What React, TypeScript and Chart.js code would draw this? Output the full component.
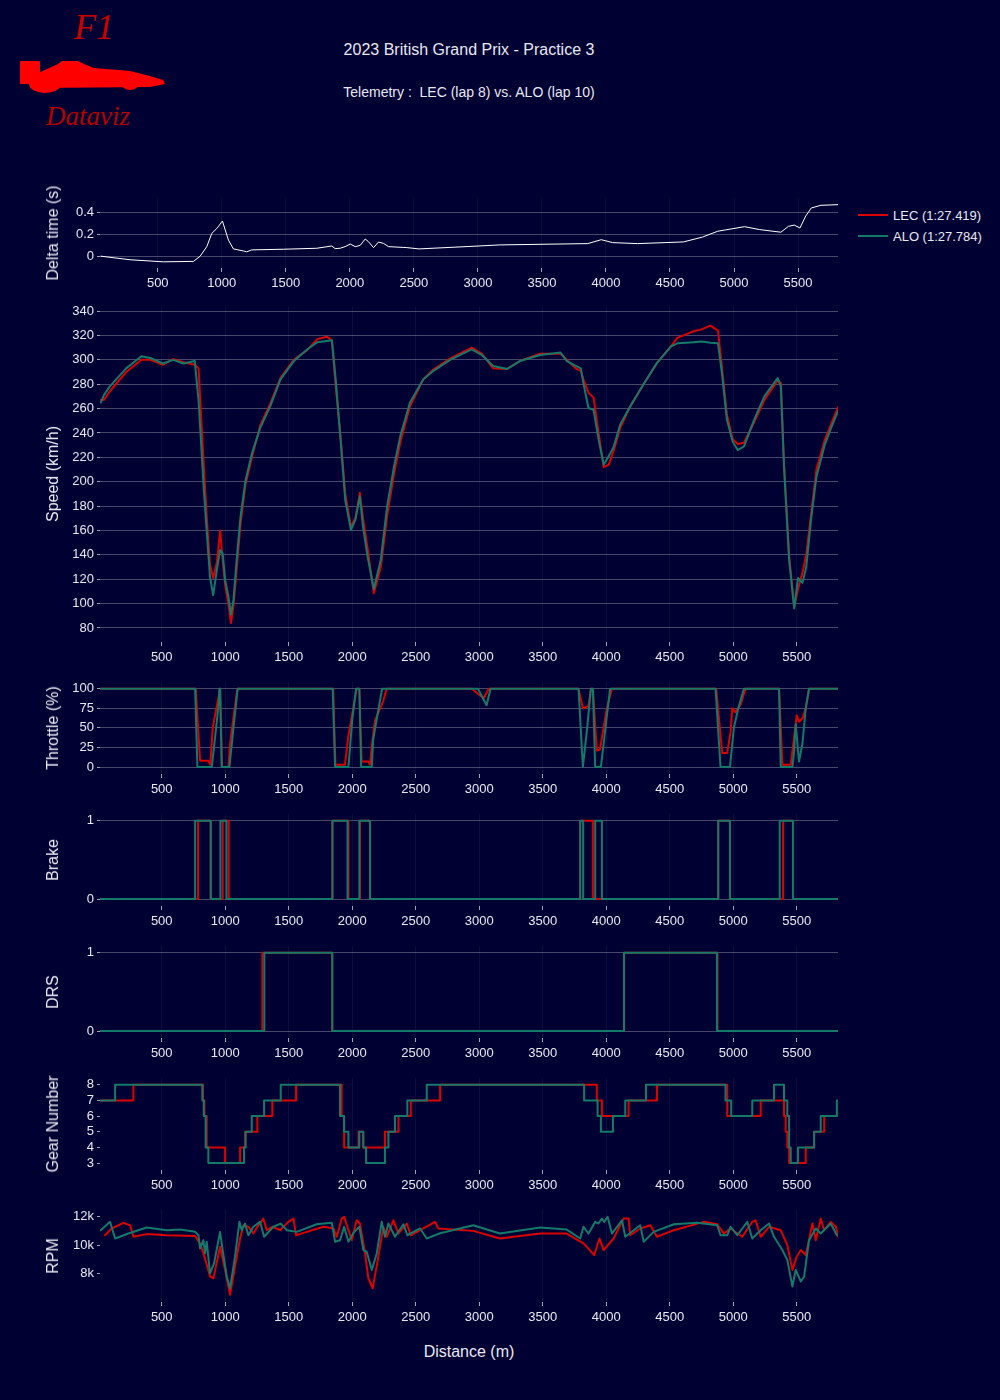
import React, { useEffect, useRef } from "react";
import { Chart, registerables } from "chart.js";
Chart.register(...registerables);

// ---------- DATA ----------
const xTicks = [500, 1000, 1500, 2000, 2500, 3000, 3500, 4000, 4500, 5000, 5500];

const deltaDist = [55,284,544,779,831,883,922,961,1005,1052,1091,1169,1195,1234,1482,1742,1859,1885,1924,1963,2003,2042,2081,2120,2146,2185,2224,2263,2302,2445,2540,2993,3172,3858,3963,4052,4246,4604,4754,4873,4933,5082,5201,5366,5425,5470,5515,5560,5604,5679,5812];
const deltaVal = [0,-0.033,-0.052,-0.048,0,0.088,0.21,0.255,0.324,0.148,0.067,0.048,0.04,0.058,0.064,0.073,0.094,0.07,0.073,0.088,0.112,0.088,0.1,0.158,0.133,0.079,0.13,0.118,0.088,0.079,0.067,0.093,0.104,0.116,0.152,0.125,0.116,0.131,0.176,0.23,0.242,0.272,0.245,0.221,0.275,0.287,0.26,0.37,0.445,0.469,0.475];

const speedDist = [20,45,90,220,340,410,510,590,670,760,790,830,855,880,905,935,960,980,1000,1025,1045,1065,1090,1120,1160,1210,1275,1355,1435,1540,1645,1725,1800,1840,1870,1910,1945,1990,2025,2060,2085,2120,2170,2225,2275,2330,2380,2455,2560,2640,2770,2940,3020,3110,3220,3320,3480,3640,3690,3760,3800,3820,3860,3900,3940,3980,4020,4060,4110,4190,4300,4400,4510,4560,4690,4750,4820,4880,4910,4950,4995,5035,5085,5165,5245,5350,5375,5400,5440,5480,5510,5545,5575,5615,5655,5720,5770,5825];
const aloSpeed = [265,271,278,293,303,301.5,297,300,297,299,267,196,158,122,107,128,144,141,119,106,91,103,136,171,201,223,244,262,284,299,308.5,314.5,315.5,316,284,232,185,160.5,169,188,163,139,112,136,180,213,238,265,284,291,300,308.5,304,295,292.5,299,304,306,299,295,293,281,260.5,259,234.5,214,221,229,247,262,281,297.5,311,313.5,314.5,315,314,313.5,290,251,233,226,229,251,270,285,278,212,136,96,121,117,130,171,204,230,244,258];
const lecSpeed = [267,267,274,290,300,300,296,300.5,298,296,293,215,170,132,121,134,160,135,115,100,84,98,128,165,198,220,246,264,285,300,308,317,319,316,278,235,190,163,170,191,170,146,108.5,130,172,207,233,262,284,292,301,310,305,293,292.5,299,305,305,300,293,291,284,273,269,240,212,214,226,244,262,281,297.5,311,318,323.5,325,328,324,295,255,235,231,232,249,267,283,281,215,140,97,112,125,140,175,210,234,247,261];

const aloThrottleDist = [14,763,781,894,935,950,954,960,972,1033,1065,1098,1846,1865,1970,2000,2030,2056,2070,2154,2165,2235,2990,3058,3089,3782,3816,3850,3879,3895,3913,3958,4030,4861,4900,4974,5005,5040,5084,5361,5374,5466,5479,5492,5518,5545,5571,5597,5825];
const aloThrottle = [100,100,0,0,60,85,100,100,0,0,50,100,100,0,0,60,100,100,0,0,35,100,100,79,100,100,0,50,100,100,0,0,100,100,0,0,50,75,100,100,0,0,20,55,7,30,75,100,100];
const lecThrottleDist = [14,768,802,868,882,902,930,960,966,975,1025,1038,1083,1096,1850,1868,1943,1970,2035,2056,2074,2128,2139,2164,2180,2220,2245,2271,2940,3035,3075,3782,3816,3860,3880,3895,3926,3950,4005,4045,4866,4913,4953,4979,4992,5018,5058,5097,5361,5387,5453,5500,5518,5545,5571,5597,5825];
const lecThrottle = [100,100,8,8,3,50,75,100,100,0,0,30,85,100,100,3,3,40,100,100,7,7,3,40,60,75,85,100,100,88,100,100,75,78,100,100,21,22,75,100,100,18,18,45,75,70,80,100,100,3,3,66,58,62,75,100,100];

const aloBrakeDist = [14,763,886,962,1010,1844,1963,2056,2140,3795,3818,3913,3966,4882,4974,5366,5471,5825];
const aloBrake = [0,1,0,1,0,1,0,1,0,1,0,1,0,1,0,1,0,0];
const lecBrakeDist = [14,786,886,980,1028,1844,1970,2061,2140,3795,3895,4882,4974,5392,5471,5825];
const lecBrake = [0,1,0,1,0,1,0,1,0,1,0,1,0,1,0,0];

const lecDrsDist = [14,1292,1843,4140,4876,5825];
const lecDrs = [0,1,0,1,0,0];
const aloDrsDist = [14,1308,1843,4140,4872,5825];
const aloDrs = [0,1,0,1,0,0];

const aloGearDist = [14,133,820,831,846,867,1148,1161,1209,1306,1437,1904,1936,1970,2056,2088,2109,2258,2285,2337,2434,2587,3826,3932,3958,4053,4150,4313,4939,4984,5150,5321,5400,5426,5440,5453,5510,5637,5689,5816,5825];
const aloGear = [7,8,7,6,4,3,4,5,6,7,8,6,5,4,5,4,3,4,5,6,7,8,7,6,5,6,7,8,7,6,7,8,7,6,4,3,4,5,6,7,7];
const lecGearDist = [14,277,825,836,854,999,1117,1156,1253,1371,1558,1917,1936,2050,2085,2258,2364,2461,2692,3926,3966,4176,4400,4953,5216,5400,5413,5426,5440,5571,5637,5716,5825];
const lecGear = [7,8,7,6,4,3,4,5,6,7,8,6,4,5,4,5,6,7,8,7,6,7,8,6,7,6,5,4,3,4,5,6,6];

const aloRpmDist = [20,93,133,238,382,540,645,763,789,802,828,841,854,881,912,959,980,1012,1038,1077,1112,1130,1156,1182,1222,1274,1306,1379,1437,1484,1563,1720,1839,1865,1904,1936,1970,2010,2056,2088,2114,2154,2193,2232,2258,2285,2337,2403,2434,2534,2587,2692,2953,3163,3479,3689,3795,3821,3861,3913,3939,3966,3984,4011,4045,4124,4150,4268,4295,4374,4532,4716,4874,4900,4953,4979,5032,5111,5150,5216,5282,5321,5387,5426,5466,5492,5532,5558,5597,5650,5689,5768,5816];
const aloRpm = [11060,11650,10470,10820,11250,11060,11100,10940,10700,9760,10350,9410,10240,8000,8700,10940,9650,7760,6940,9180,11650,11060,11530,10700,11300,11650,10590,11300,11530,11060,10940,11480,11580,10240,10350,11300,10240,10870,11300,9650,9530,8240,9410,11650,10590,11530,10590,11480,10700,11180,10470,10840,11410,10820,11250,11100,10470,11300,10820,11650,11530,11880,11650,12000,10820,11760,10590,11410,10240,10940,11480,11580,11410,10700,10700,11300,10700,11650,10470,11060,11530,10590,9650,8950,7060,8240,7420,7760,10350,11180,10820,11530,10700];
const lecRpmDist = [54,106,198,251,277,382,540,763,802,841,881,907,959,999,1038,1077,1117,1143,1182,1222,1253,1300,1327,1371,1432,1497,1537,1558,1642,1773,1852,1878,1917,1936,1996,2035,2061,2101,2127,2161,2206,2245,2272,2324,2364,2429,2461,2560,2652,2678,2953,3163,3479,3689,3821,3905,3947,3979,4058,4137,4176,4189,4268,4347,4400,4532,4768,4874,4926,4979,5071,5150,5176,5216,5282,5374,5426,5466,5500,5532,5571,5624,5650,5689,5716,5768,5808,5826];
const lecRpm = [10700,11180,11580,11410,10590,10780,10700,10640,10120,9060,7760,7650,9880,8240,6470,8470,10470,11410,11300,10820,11300,11880,11060,11300,11060,11650,11880,10700,10940,11300,11180,10590,11880,12000,10350,11760,11530,9410,7650,6940,9180,11300,10590,11760,10820,11530,10700,11180,11650,11180,11010,10470,10820,10820,10120,9300,10470,9650,10470,11880,11880,10700,11180,11410,10590,11060,11650,11480,10820,11180,10590,11650,11760,10590,11300,11060,10000,8240,9180,9650,9300,11530,10350,11880,11060,11650,11300,10590];

const deltaTicks = [0, 0.2, 0.4];
const speedTicks = [80,100,120,140,160,180,200,220,240,260,280,300,320,340];
const throttleTicks = [0, 25, 50, 75, 100];
const binaryTicks = [0, 1];
const gearTicks = [3, 4, 5, 6, 7, 8];
const rpmTicks = [8000, 10000, 12000];

// ---------- STYLE ----------
const BG = "#000033";
const TEXT = "#e8e8f2";
const GRID = "rgba(255,255,255,0.28)";
const VGRID = "rgba(255,255,255,0.05)";
const LEC_C = "#dc0000";
const ALO_C = "#137a6a";
const FONT = "'Liberation Sans', Arial, Helvetica, sans-serif";
const PLOT_LEFT = 100;
const PLOT_RIGHT = 838;
const W = 1000;
const PAD_TOP = 10;
const XAXIS_H = 30;

Chart.defaults.font.family = FONT;

const pts = (xs: number[], ys: number[]) => xs.map((x, i) => ({ x, y: ys[i] }));

type PanelProps = {
  top: number;
  height: number;
  yMin: number;
  yMax: number;
  yTicks: number[];
  yFmt?: (v: number) => string;
  yGrid: boolean;
  xMin: number;
  xMax: number;
  datasets: any[];
  title: string;
};

function Panel(p: PanelProps) {
  const ref = useRef<HTMLCanvasElement | null>(null);
  useEffect(() => {
    if (!ref.current) return;
    const chart = new Chart(ref.current, {
      type: "line",
      data: { datasets: p.datasets },
      options: {
        animation: false,
        responsive: false,
        devicePixelRatio: 1,
        layout: { padding: { left: 0, right: W - PLOT_RIGHT, top: PAD_TOP, bottom: 0 } },
        plugins: { legend: { display: false }, tooltip: { enabled: false } },
        elements: { point: { radius: 0 } },
        scales: {
          x: {
            type: "linear",
            min: p.xMin,
            max: p.xMax,
            afterFit: (s: any) => { s.height = XAXIS_H; },
            afterBuildTicks: (s: any) => { s.ticks = xTicks.map((v) => ({ value: v })); },
            grid: { color: VGRID, tickColor: "rgba(230,230,240,0.7)", tickLength: 4, tickWidth: 1 },
            border: { display: false },
            ticks: { color: TEXT, font: { size: 13, family: FONT }, padding: 4, maxRotation: 0, autoSkip: false, callback: (v: any) => String(v) },
          },
          y: {
            type: "linear",
            min: p.yMin,
            max: p.yMax,
            afterFit: (s: any) => { s.width = PLOT_LEFT; },
            afterBuildTicks: (s: any) => { s.ticks = p.yTicks.map((v) => ({ value: v })); },
            grid: { color: p.yGrid ? GRID : "rgba(0,0,0,0)", tickColor: "rgba(230,230,240,0.7)", tickLength: 3, tickWidth: 1 },
            border: { display: false },
            ticks: { color: TEXT, font: { size: 13, family: FONT }, padding: 3, autoSkip: false, callback: (v: any) => (p.yFmt ? p.yFmt(Number(v)) : String(v)) },
          },
        },
      } as any,
    });
    return () => chart.destroy();
  }, []);
  const ch = PAD_TOP + p.height + XAXIS_H;
  return (
    <>
      <canvas
        ref={ref}
        width={W}
        height={ch}
        style={{ position: "absolute", left: 0, top: p.top - PAD_TOP, width: W, height: ch }}
      />
      <div
        style={{
          position: "absolute",
          left: 53,
          top: p.top + p.height / 2,
          transform: "translate(-50%, -50%) rotate(-90deg)",
          color: TEXT,
          fontFamily: FONT,
          fontSize: 16,
          whiteSpace: "nowrap",
        }}
      >
        {p.title}
      </div>
    </>
  );
}

// Chart.js draws the first dataset on top, so ALO (teal, drawn above LEC in the reference) comes first.
const line = (data: any[], color: string, width: number, stepped = false) => ({
  data,
  borderColor: color,
  backgroundColor: color,
  borderWidth: width,
  borderJoinStyle: "round",
  borderCapStyle: "round",
  pointRadius: 0,
  fill: false,
  tension: 0,
  stepped,
});

export default function App() {
  const xA = 14, xB = 5825;
  return (
    <div style={{ position: "absolute", left: 0, top: 0, width: 1000, height: 1400, background: BG, overflow: "hidden", fontFamily: FONT }}>
      {/* Logo */}
      <div style={{ position: "absolute", left: 74, top: 6, color: "#c80000", fontFamily: "'Liberation Serif', 'DejaVu Serif', serif", fontStyle: "italic", fontSize: 36, lineHeight: "42px" }}>F1</div>
      <svg width={180} height={100} style={{ position: "absolute", left: 0, top: 0 }}>
        <g fill="#ff0000">
          <rect x={20} y={61} width={20} height={23} rx={1} />
          <path d="M38,73 L58,64 L62,61 L78,61 L84,64 L94,68 L130,71 L150,76 L163,80 L165,84 L150,87 L38,88 Z" />
          <ellipse cx={45} cy={84} rx={16} ry={9} />
          <ellipse cx={130} cy={83} rx={9} ry={7} />
        </g>
      </svg>
      <div style={{ position: "absolute", left: 46, top: 100, color: "#b40000", fontFamily: "'Liberation Serif', 'DejaVu Serif', serif", fontStyle: "italic", fontSize: 27, lineHeight: "32px" }}>Dataviz</div>

      {/* Titles */}
      <div style={{ position: "absolute", left: 469, top: 50, transform: "translate(-50%, -50%)", color: TEXT, fontSize: 16, whiteSpace: "pre" }}>2023 British Grand Prix - Practice 3</div>
      <div style={{ position: "absolute", left: 469, top: 92, transform: "translate(-50%, -50%)", color: TEXT, fontSize: 14, whiteSpace: "pre" }}>{"Telemetry :  LEC (lap 8) vs. ALO (lap 10)"}</div>

      {/* Legend */}
      <div style={{ position: "absolute", left: 858, top: 214, width: 30, height: 2, background: LEC_C }} />
      <div style={{ position: "absolute", left: 893, top: 215, transform: "translateY(-50%)", color: TEXT, fontSize: 13, whiteSpace: "nowrap" }}>LEC (1:27.419)</div>
      <div style={{ position: "absolute", left: 858, top: 235, width: 30, height: 2, background: ALO_C }} />
      <div style={{ position: "absolute", left: 893, top: 236, transform: "translateY(-50%)", color: TEXT, fontSize: 13, whiteSpace: "nowrap" }}>ALO (1:27.784)</div>

      <Panel top={198} height={70} yMin={-0.109} yMax={0.529} yTicks={deltaTicks} yGrid title="Delta time (s)" xMin={49} xMax={5812}
        datasets={[line(pts(deltaDist, deltaVal), "#ffffff", 1)]} />
      <Panel top={306} height={336} yMin={68.5} yMax={343.5} yTicks={speedTicks} yGrid title="Speed (km/h)" xMin={xA} xMax={xB}
        datasets={[line(pts(speedDist, aloSpeed), ALO_C, 2), line(pts(speedDist, lecSpeed), LEC_C, 2)]} />
      <Panel top={681} height={93} yMin={-8.9} yMax={108.9} yTicks={throttleTicks} yGrid title="Throttle (%)" xMin={xA} xMax={xB}
        datasets={[line(pts(aloThrottleDist, aloThrottle), ALO_C, 2), line(pts(lecThrottleDist, lecThrottle), LEC_C, 2)]} />
      <Panel top={813} height={93} yMin={-0.089} yMax={1.089} yTicks={binaryTicks} yGrid title="Brake" xMin={xA} xMax={xB}
        datasets={[line(pts(aloBrakeDist, aloBrake), ALO_C, 2, true), line(pts(lecBrakeDist, lecBrake), LEC_C, 2, true)]} />
      <Panel top={945} height={93} yMin={-0.089} yMax={1.089} yTicks={binaryTicks} yGrid title="DRS" xMin={xA} xMax={xB}
        datasets={[line(pts(aloDrsDist, aloDrs), ALO_C, 2, true), line(pts(lecDrsDist, lecDrs), LEC_C, 2, true)]} />
      <Panel top={1077} height={93} yMin={2.557} yMax={8.443} yTicks={gearTicks} yGrid={false} title="Gear Number" xMin={xA} xMax={xB}
        datasets={[line(pts(aloGearDist, aloGear), ALO_C, 2, true), line(pts(lecGearDist, lecGear), LEC_C, 2, true)]} />
      <Panel top={1209} height={93} yMin={5965} yMax={12505} yTicks={rpmTicks} yFmt={(v) => v / 1000 + "k"} yGrid={false} title="RPM" xMin={xA} xMax={xB}
        datasets={[line(pts(aloRpmDist, aloRpm), ALO_C, 2), line(pts(lecRpmDist, lecRpm), LEC_C, 2)]} />

      <div style={{ position: "absolute", left: 469, top: 1352, transform: "translate(-50%, -50%)", color: TEXT, fontSize: 16, whiteSpace: "nowrap" }}>Distance (m)</div>
    </div>
  );
}
